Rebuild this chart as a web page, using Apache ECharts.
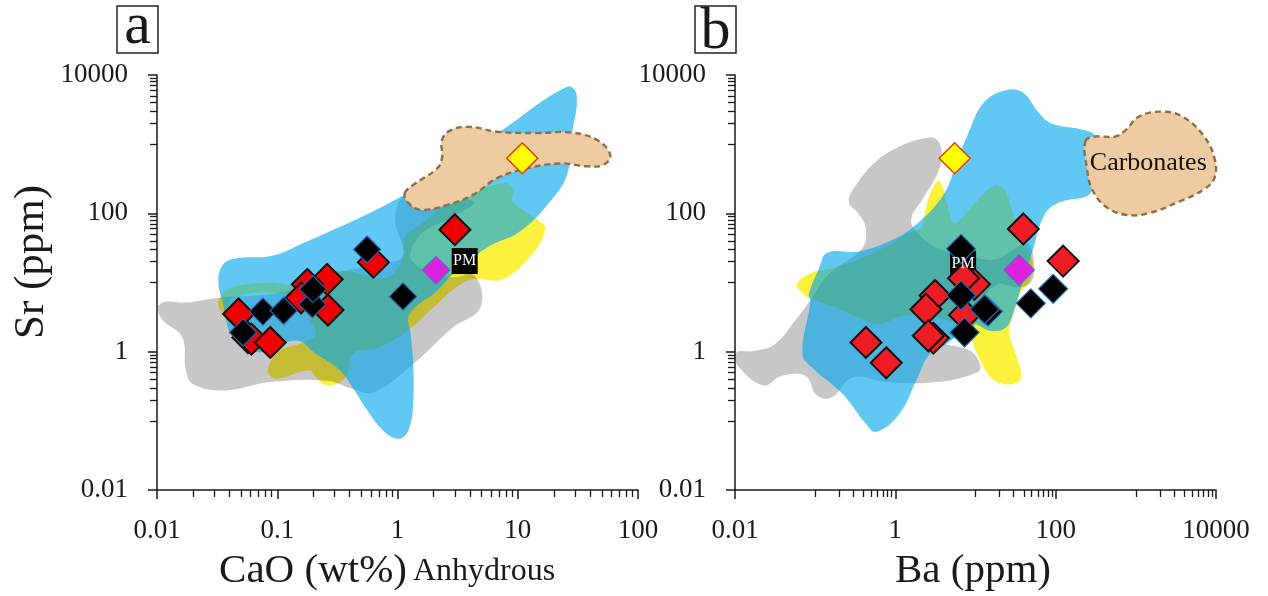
<!DOCTYPE html>
<html>
<head>
<meta charset="utf-8">
<title>Sr vs CaO and Ba</title>
<script src="https://cdn.jsdelivr.net/npm/echarts@6/dist/echarts.min.js"></script>
<style>
  html, body { margin: 0; padding: 0; background: #fff; }
  #chart { width: 1268px; height: 596px; }
</style>
</head>
<body>
<div id="chart"></div>
<script>
// samples, [x, Sr ppm]
var redA = [[3.0, 58], [0.63, 19.7], [0.26, 11.1], [0.178, 9.4], [0.158, 6.0], [0.264, 4.0], [0.0477, 3.5], [0.057, 1.6], [0.061, 1.52], [0.0875, 1.36]];
var blackA = [[0.558, 30], [1.11, 6.3], [0.196, 4.85], [0.198, 8], [0.076, 3.8], [0.113, 3.9], [0.052, 1.9]];
var magentaA = [[2.09, 15.1]];
var yellowA = [[10.9, 625]];
var pmA = [[3.62, 20.4]];

var redB = [[39.5, 59.5], [124, 20.4], [9.7, 9.4], [7.1, 11.5], [3.13, 6.5], [2.41, 4.1], [7.3, 3.4], [2.98, 1.57], [2.58, 1.7], [0.43, 1.36], [0.77, 0.69]];
var blackB = [[6.6, 30.7], [6.6, 6.5], [14.3, 3.8], [13, 4.1], [7.3, 1.9], [49, 5], [93, 8.1]];
var magentaB = [[35, 15.1]];
var yellowB = [[5.5, 625]];
var pmB = [[7, 18.6]];
var carbonatesLabel = [[1430, 540]];

// field outlines, [log10 x, log10 Sr]
var blueFieldA = [[-1.49,1.02],[-1.45,1.26],[-1.34,1.35],[-1.06,1.38],[-0.87,1.5],[0.08,2.29],[0.85,3.18],[1.41,3.83],[1.49,3.71],[1.45,3.13],[1.41,2.56],[1.27,2.17],[1.02,1.74],[0.74,1.5],[0.46,1.12],[0.33,0.88],[0.1,0.54],[0.11,0.25],[0.13,-0.13],[0.13,-0.75],[0.09,-1.14],[0.01,-1.26],[-0.12,-1.14],[-0.29,-0.75],[-0.34,-0.61],[-0.48,-0.27],[-0.68,-0.03],[-0.84,0.16],[-1.15,-0.01],[-1.37,0.21],[-1.45,0.69]];
var yellowFieldA = [[1.23,1.79],[1.2,1.86],[0.96,2.17],[0.96,2.34],[0.88,2.44],[0.46,2.17],[0.19,1.84],[0.06,1.65],[0.05,1.36],[-0.09,1.07],[-0.51,1.17],[-0.84,0.97],[-1.06,1.0],[-1.37,0.93],[-1.47,0.81],[-1.49,0.66],[-1.44,0.57],[-1.37,0.78],[-0.98,0.85],[-0.81,0.73],[-0.73,0.45],[-0.68,0.25],[-0.79,0.13],[-0.98,0.01],[-1.08,-0.27],[-1.01,-0.39],[-0.73,-0.27],[-0.68,-0.37],[-0.58,-0.49],[-0.43,-0.37],[-0.37,-0.03],[-0.15,0.06],[0.1,0.33],[0.33,0.69],[0.49,0.93],[0.63,1.05],[0.88,1.05],[1.16,1.5]];
var grayFieldA = [[-1.99,0.64],[-1.93,0.72],[-1.76,0.71],[-1.48,0.78],[-1.06,0.83],[-0.81,0.93],[-0.51,1.14],[-0.01,1.31],[0.05,1.45],[-0.02,1.93],[0.08,2.27],[0.63,2.17],[0.44,1.93],[0.19,1.69],[0.12,1.31],[0.44,1.08],[0.64,1.1],[0.69,0.64],[0.46,0.35],[0.13,-0.18],[-0.2,-0.59],[-0.37,-0.54],[-0.59,-0.42],[-1.06,-0.44],[-1.43,-0.56],[-1.7,-0.47],[-1.76,-0.27],[-1.79,0.21],[-1.95,0.45]];
var tanFieldA = [[0.06,2.29],[0.13,2.41],[0.33,2.65],[0.37,2.8],[0.37,3.06],[0.44,3.2],[0.6,3.25],[0.83,3.18],[1.16,3.16],[1.44,3.17],[1.66,3.06],[1.77,2.84],[1.71,2.7],[1.58,2.68],[1.35,2.72],[1.08,2.65],[0.83,2.51],[0.63,2.27],[0.41,2.12],[0.19,2.05],[0.08,2.17]];

var blueFieldB = [[1.42,3.79],[1.61,3.73],[1.78,3.47],[1.95,3.3],[2.37,3.2],[2.49,3.11],[2.45,2.32],[2.03,2.15],[1.86,1.98],[1.71,1.45],[1.57,0.93],[1.48,0.59],[1.38,0.35],[1.19,0.3],[0.94,0.4],[0.64,0.11],[0.43,-0.03],[0.26,-0.42],[0.05,-0.9],[-0.24,-1.16],[-0.37,-1.04],[-0.66,-0.61],[-1.04,-0.23],[-1.16,-0.03],[-1.06,0.73],[-1.08,0.83],[-0.95,1.21],[-0.85,1.43],[-0.45,1.45],[-0.03,1.62],[0.26,1.84],[0.6,2.27],[0.77,2.75],[0.9,3.13],[1.11,3.61]];
var yellowFieldB = [[-1.23,0.97],[-1.04,1.14],[-0.74,1.22],[-0.32,1.4],[0.18,1.72],[0.33,1.8],[0.36,1.95],[0.43,2.27],[0.54,2.47],[0.6,2.34],[0.64,2.17],[0.71,1.88],[0.77,1.86],[0.94,2.08],[1.23,2.4],[1.36,2.34],[1.46,2.03],[1.57,1.65],[1.71,1.31],[1.67,1.02],[1.55,0.83],[1.46,0.49],[1.42,0.3],[1.5,-0.03],[1.57,-0.32],[1.53,-0.44],[1.36,-0.47],[1.19,-0.37],[1.02,-0.03],[0.92,0.25],[0.77,0.4],[0.52,0.49],[0.1,0.52],[-0.2,0.4],[-0.45,0.49],[-0.74,0.64],[-1.08,0.78],[-1.16,0.85]];
var grayFieldB = [[-0.58,2.17],[-0.49,2.41],[-0.24,2.75],[0.1,2.99],[0.39,3.09],[0.52,3.06],[0.58,2.84],[0.52,2.56],[0.35,2.22],[0.2,1.93],[0.26,1.74],[0.52,1.5],[0.94,1.38],[1.23,1.33],[1.44,1.45],[1.65,1.57],[1.73,1.26],[1.69,1.0],[1.53,0.93],[1.27,0.97],[1.06,0.69],[1.0,0.4],[0.77,0.21],[0.6,0.13],[0.94,0.01],[1.06,-0.2],[1.02,-0.3],[0.52,-0.44],[-0.11,-0.44],[-0.53,-0.37],[-0.79,-0.66],[-0.98,-0.63],[-1.12,-0.35],[-1.42,-0.35],[-1.65,-0.49],[-1.98,-0.18],[-1.98,-0.01],[-1.75,0.01],[-1.5,0.11],[-1.25,0.45],[-1.08,0.71],[-0.83,1.12],[-0.41,1.5],[-0.37,1.79],[-0.45,1.98]];
var tanFieldB = [[2.37,3.04],[2.49,3.11],[2.74,3.11],[2.87,3.2],[3.04,3.4],[3.33,3.47],[3.58,3.4],[3.84,3.13],[3.98,2.8],[3.98,2.51],[3.84,2.34],[3.54,2.17],[3.16,2.0],[2.87,1.98],[2.62,2.1],[2.45,2.36],[2.39,2.65]];

// axis ticks
var xLabelsA = [0.01, 0.1, 1, 10, 100];
var xMinorA = [0.02,0.03,0.04,0.05,0.06,0.07,0.08,0.09,0.2,0.3,0.4,0.5,0.6,0.7,0.8,0.9,2,3,4,5,6,7,8,9,20,30,40,50,60,70,80,90];
var labels2Dec = [0.01, 1, 100, 10000];
var minor2Dec = [0.1,0.2,0.3,0.4,0.5,0.6,0.7,0.8,0.9,10,20,30,40,50,60,70,80,90,1000,2000,3000,4000,5000,6000,7000,8000,9000];

var FONT = '"Liberation Serif", "Times New Roman", serif';
var INK = '#1a1a1a';

function field(pts, xi, yi, fill, dashed) {
    var coords = pts.map(function (p) { return [Math.pow(10, p[0]), Math.pow(10, p[1])]; });
    return {
        type: 'custom',
        xAxisIndex: xi,
        yAxisIndex: yi,
        silent: true,
        data: coords,
        renderItem: function (params, api) {
            if (params.dataIndex !== 0) return;
            return {
                type: 'polygon',
                shape: { points: coords.map(function (c) { return api.coord(c); }), smooth: 0.4 },
                style: dashed
                    ? { fill: fill, stroke: '#8b6f47', lineWidth: 2.4, lineDash: [6, 4] }
                    : { fill: fill }
            };
        }
    };
}

function points(data, xi, yi, size, color, border, bw) {
    return {
        type: 'scatter',
        xAxisIndex: xi,
        yAxisIndex: yi,
        symbol: 'diamond',
        symbolSize: size,
        data: data,
        itemStyle: { color: color, borderColor: border, borderWidth: bw, opacity: 1 }
    };
}

function pmBox(data, xi, yi) {
    return {
        type: 'scatter',
        xAxisIndex: xi,
        yAxisIndex: yi,
        symbol: 'rect',
        symbolSize: 26,
        data: data,
        itemStyle: { color: '#000', opacity: 1 },
        label: { show: true, position: 'inside', formatter: 'PM', color: '#fff', fontFamily: FONT, fontSize: 16 }
    };
}

function mainAxis(type, gridIndex, min, max, labels) {
    return {
        type: 'log', logBase: 10, gridIndex: gridIndex, min: min, max: max,
        position: type === 'x' ? 'bottom' : 'left',
        splitLine: { show: false },
        axisLine: { onZero: false, lineStyle: { color: INK, width: 1.5 } },
        axisTick: { show: true, length: 9, customValues: labels, lineStyle: { color: INK, width: 1.5 } },
        axisLabel: {
            show: true, customValues: labels, color: INK, fontFamily: FONT, fontSize: 27, margin: type === 'x' ? 27 : 29,
            hideOverlap: false, showMinLabel: true, showMaxLabel: true,
            formatter: function (v) { return String(+(+v).toPrecision(3)); }
        }
    };
}

function minorAxis(type, gridIndex, min, max, ticks) {
    return {
        type: 'log', logBase: 10, gridIndex: gridIndex, min: min, max: max,
        position: type === 'x' ? 'bottom' : 'left',
        splitLine: { show: false },
        axisLine: { show: false, onZero: false },
        axisTick: { show: true, length: 7, customValues: ticks, lineStyle: { color: INK, width: 1.3 } },
        axisLabel: { show: false }
    };
}

function bigText(text, x, y, size, rotation) {
    return {
        type: 'text', x: x, y: y, rotation: rotation || 0, silent: true,
        style: { text: text, fill: INK, font: size + 'px ' + FONT, textAlign: 'center', textVerticalAlign: 'middle' }
    };
}

function letterBox(x) {
    return {
        type: 'rect', silent: true,
        shape: { x: x, y: 6, width: 41, height: 47 },
        style: { fill: '#fff', stroke: '#222', lineWidth: 1.5 }
    };
}

var option = {
    animation: false,
    backgroundColor: '#fff',
    grid: [
        { left: 157, top: 75, width: 481, height: 415 },
        { left: 735, top: 75, width: 481, height: 415 }
    ],
    xAxis: [
        mainAxis('x', 0, 0.01, 100, xLabelsA),
        minorAxis('x', 0, 0.01, 100, xMinorA),
        mainAxis('x', 1, 0.01, 10000, labels2Dec),
        minorAxis('x', 1, 0.01, 10000, minor2Dec)
    ],
    yAxis: [
        mainAxis('y', 0, 0.01, 10000, labels2Dec),
        minorAxis('y', 0, 0.01, 10000, minor2Dec),
        mainAxis('y', 1, 0.01, 10000, labels2Dec),
        minorAxis('y', 1, 0.01, 10000, minor2Dec)
    ],
    series: [
        field(yellowFieldA, 0, 0, '#fbf13c'),
        field(grayFieldA, 0, 0, 'rgba(35,31,32,0.25)'),
        field(blueFieldA, 0, 0, 'rgba(0,166,238,0.62)'),
        field(tanFieldA, 0, 0, '#eecba0', true),
        pmBox(pmA, 0, 0),
        points(redA, 0, 0, 31, '#f00000', '#111', 2),
        points(blackA, 0, 0, 27, '#000', '#2a5caa', 1.2),
        points(magentaA, 0, 0, 27, '#e020e0', '#7a5bc0', 1.5),
        points(yellowA, 0, 0, 31, '#ffff00', '#d8401a', 1.5),

        field(yellowFieldB, 2, 2, '#fbf13c'),
        field(grayFieldB, 2, 2, 'rgba(35,31,32,0.25)'),
        field(blueFieldB, 2, 2, 'rgba(0,166,238,0.62)'),
        field(tanFieldB, 2, 2, '#eecba0', true),
        {
            type: 'scatter', xAxisIndex: 2, yAxisIndex: 2, symbolSize: 1, data: carbonatesLabel,
            itemStyle: { color: 'transparent', opacity: 1 },
            label: { show: true, position: 'inside', formatter: 'Carbonates', color: '#111', fontFamily: FONT, fontSize: 26 }
        },
        pmBox(pmB, 2, 2),
        points(redB, 2, 2, 31, '#ee1c25', '#111', 2),
        points(blackB, 2, 2, 29, '#000', '#1f6fb5', 1.2),
        points(magentaB, 2, 2, 30, '#e020e0', '#7a5bc0', 1.5),
        points(yellowB, 2, 2, 31, '#ffff00', '#d8401a', 1.5)
    ],
    graphic: [
        letterBox(117),
        bigText('a', 137.5, 27, 60),
        letterBox(695),
        bigText('b', 715.5, 32, 60),
        bigText('Sr (ppm)', 32, 262, 43, Math.PI / 2),
        bigText('CaO (wt%)', 313, 571, 41),
        bigText('Anhydrous', 484, 572, 32),
        bigText('Ba (ppm)', 973, 571, 41)
    ]
};

var chart = echarts.init(document.getElementById('chart'));
chart.setOption(option);
</script>
</body>
</html>
